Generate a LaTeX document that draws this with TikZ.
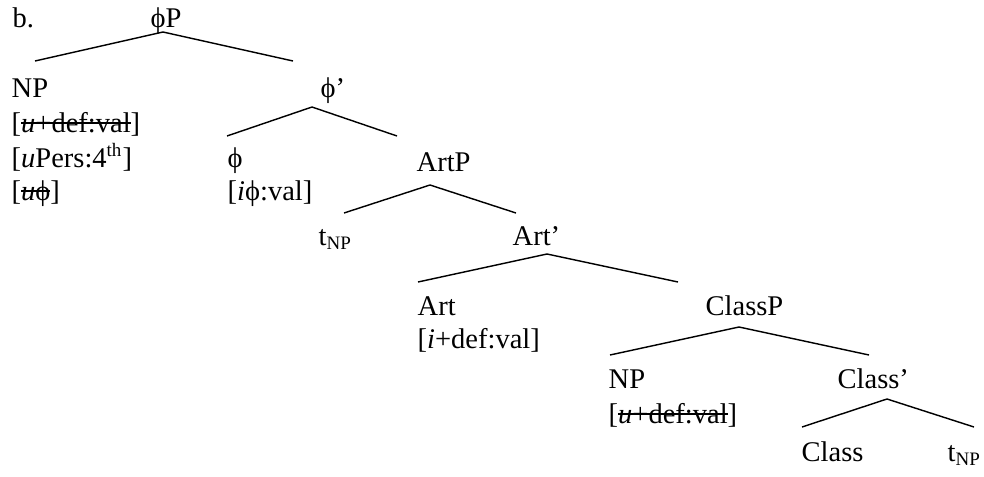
\documentclass[tikz,border=0pt]{standalone}
\usepackage{fontspec}
\setmainfont{Liberation Serif}
\newcommand{\struck}[1]{\setbox0\hbox{#1}\rlap{\rule[0.62ex]{\wd0}{0.7pt}}\box0}
\newcommand{\ph}{ϕ}

\begin{document}
\begin{tikzpicture}[x=0.421pt, y=-0.421pt, line width=0.6pt,
  lbl/.style={anchor=base west, inner sep=0pt, font=\fontsize{12}{14}\selectfont}]
\useasboundingbox (0,0) rectangle (984,476);
% labels
\node[lbl] (ex) at (12,28) {b.};
\node[lbl] (phiP) at (150,28) {\ph P};
\node[lbl] (NPa) at (11,97) {NP};
\node[lbl] (NPa1) at (11,132) {[\struck{\textit{u}+def:val}]};
\node[lbl] (NPa2) at (11,167) {[\textit{u}Pers:4\textsuperscript{th}]};
\node[lbl] (NPa3) at (11,200) {[\struck{\textit{u}\ph}]};
\node[lbl] (phiBar) at (320,97) {\ph’};
\node[lbl] (phi) at (227,167) {\ph};
\node[lbl] (phi1) at (227,200) {[\textit{i}\ph:val]};
\node[lbl] (ArtP) at (416,171) {ArtP};
\node[lbl] (tNPa) at (318,245) {t\textsubscript{NP}};
\node[lbl] (ArtBar) at (512,245) {Art’};
\node[lbl] (Art) at (417,315) {Art};
\node[lbl] (Art1) at (417,348) {[\textit{i}+def:val]};
\node[lbl] (ClassP) at (705,315) {ClassP};
\node[lbl] (NPb) at (608,388) {NP};
\node[lbl] (NPb1) at (608,423) {[\struck{\textit{u}+def:val}]};
\node[lbl] (ClassBar) at (837,388) {Class’};
\node[lbl] (Class) at (801,461) {Class};
\node[lbl] (tNPb) at (947,461) {t\textsubscript{NP}};
% branches
\coordinate (A1) at (163,32);
\coordinate (L1) at (35,61);
\coordinate (R1) at (293,61);
\coordinate (A2) at (312,107);
\coordinate (L2) at (227,136);
\coordinate (R2) at (397,136);
\coordinate (A3) at (430,185);
\coordinate (L3) at (344,213);
\coordinate (R3) at (516,213);
\coordinate (A4) at (547,254);
\coordinate (L4) at (418,282);
\coordinate (R4) at (678,282);
\coordinate (A5) at (739,327);
\coordinate (L5) at (610,355);
\coordinate (R5) at (869,355);
\coordinate (A6) at (887,399);
\coordinate (L6) at (802,427);
\coordinate (R6) at (974,427);
\draw (L1) -- (A1) -- (R1);
\draw (L2) -- (A2) -- (R2);
\draw (L3) -- (A3) -- (R3);
\draw (L4) -- (A4) -- (R4);
\draw (L5) -- (A5) -- (R5);
\draw (L6) -- (A6) -- (R6);
\end{tikzpicture}
\end{document}
